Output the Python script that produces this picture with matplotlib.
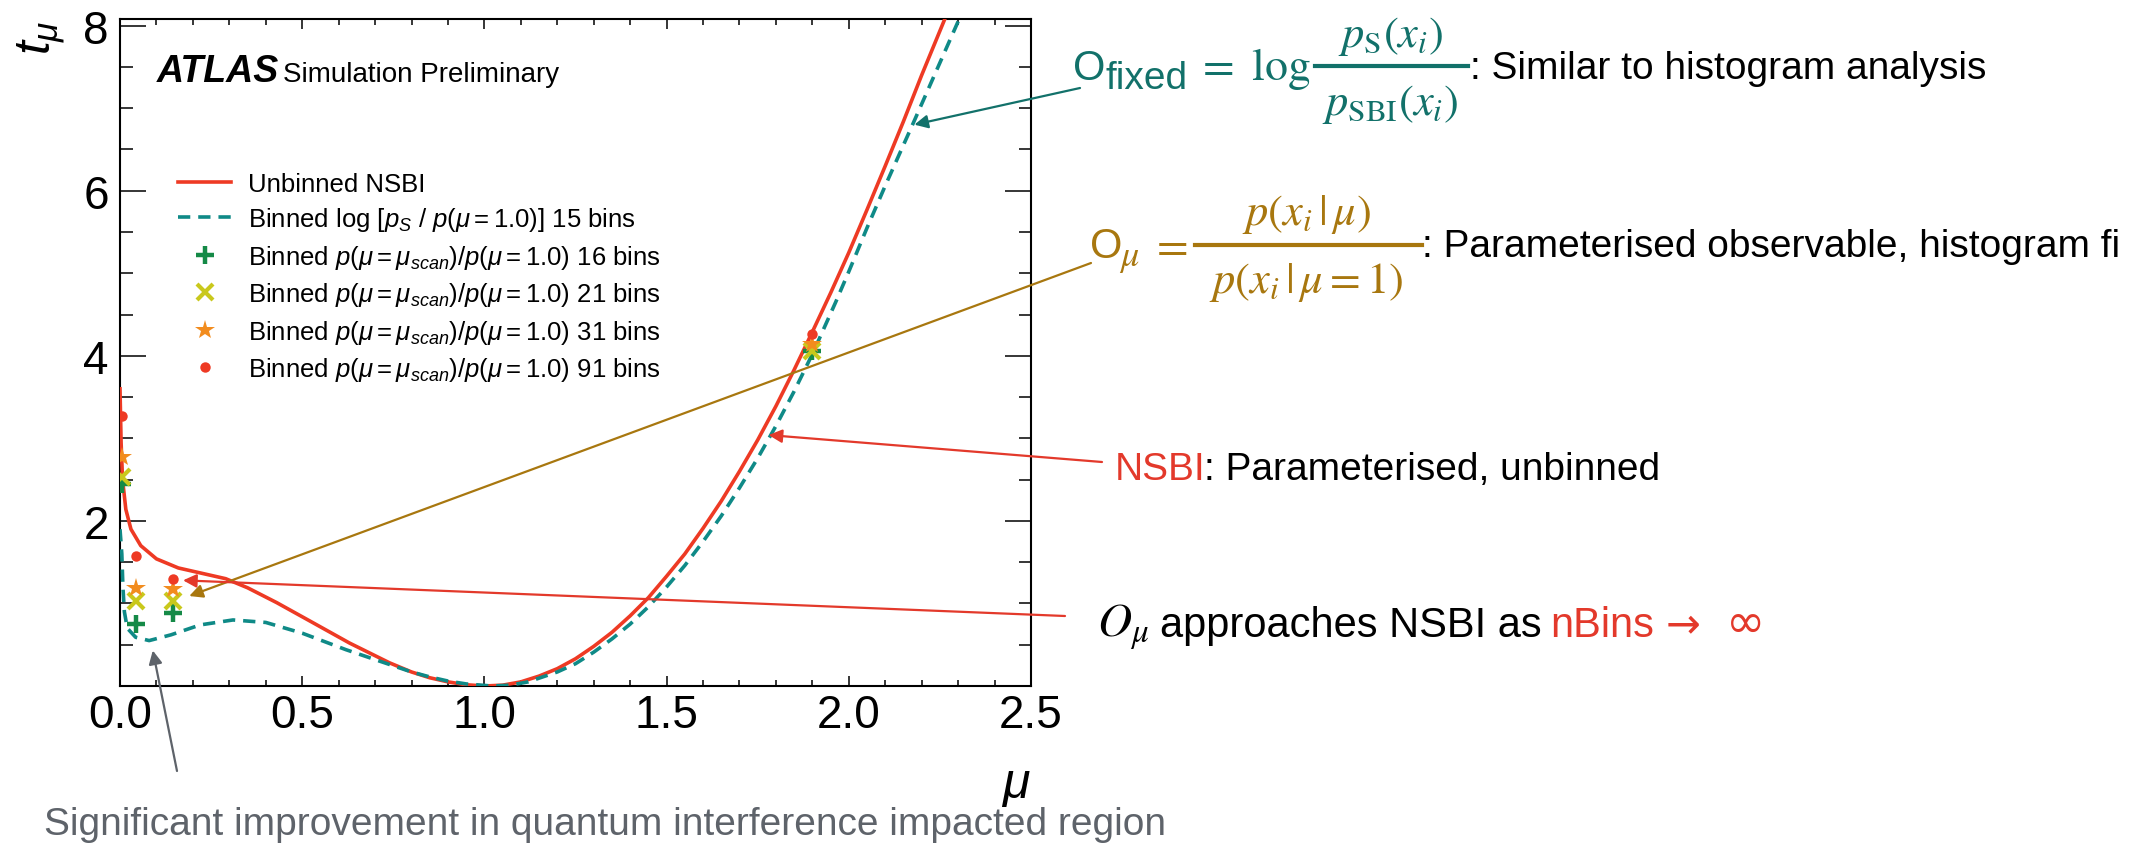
import numpy as np
import matplotlib
matplotlib.use('Agg')
import matplotlib.pyplot as plt
from matplotlib.lines import Line2D
from matplotlib.ticker import MultipleLocator, FormatStrFormatter

W, H = 2138, 845

# unbinned NSBI curve
mu_nsbi = [0.000, 0.003, 0.007, 0.016, 0.030, 0.057, 0.100, 0.160, 0.220, 0.290,
           0.350, 0.430, 0.520, 0.630, 0.740, 0.800, 0.850, 0.900, 0.950, 1.000,
           1.050, 1.100, 1.150, 1.200, 1.250, 1.300, 1.350, 1.400, 1.450, 1.500,
           1.550, 1.600, 1.650, 1.700, 1.750, 1.800, 1.850, 1.900, 1.950, 2.000,
           2.050, 2.100, 2.150, 2.200, 2.270]
t_nsbi = [3.60, 2.95, 2.50, 2.14, 1.90, 1.70, 1.54, 1.43, 1.37, 1.30,
          1.19, 1.01, 0.79, 0.52, 0.28, 0.17, 0.10, 0.05, 0.015, 0.00,
          0.01, 0.05, 0.12, 0.21, 0.33, 0.48, 0.65, 0.85, 1.07, 1.33,
          1.60, 1.91, 2.24, 2.60, 2.98, 3.39, 3.83, 4.29, 4.76, 5.25,
          5.77, 6.30, 6.84, 7.40, 8.15]

# binned log ratio, 15 bins
mu_binned = [0.000, 0.005, 0.008, 0.012, 0.020, 0.043, 0.080, 0.140, 0.220, 0.310,
             0.400, 0.500, 0.620, 0.740, 0.800, 0.850, 0.900, 0.950, 1.020, 1.070,
             1.120, 1.200, 1.250, 1.300, 1.350, 1.400, 1.450, 1.500, 1.550, 1.600,
             1.650, 1.700, 1.750, 1.800, 1.850, 1.900, 1.964, 2.000, 2.050, 2.100,
             2.180, 2.250, 2.310]
t_binned = [1.90, 1.60, 1.20, 0.90, 0.70, 0.59, 0.55, 0.62, 0.74, 0.80,
            0.77, 0.64, 0.44, 0.26, 0.17, 0.11, 0.06, 0.025, 0.00, 0.01,
            0.05, 0.17, 0.27, 0.41, 0.57, 0.75, 0.96, 1.20, 1.46, 1.75,
            2.06, 2.40, 2.76, 3.15, 3.57, 4.02, 4.65, 5.02, 5.55, 6.06,
            6.85, 7.55, 8.15]

# parameterised observable scans
mu_scan = [0.005, 0.045, 0.145, 1.90]
t_16 = [2.45, 0.755, 0.885, 4.06]
t_21 = [2.53, 1.03, 1.03, 4.06]
t_31 = [2.77, 1.19, 1.17, 4.14]
t_91 = [3.27, 1.57, 1.30, 4.26]

# where the annotation arrows point (data) and start (pixels from top-left)
tips = {'fixed': (2.18, 6.80), 'omu': (0.19, 1.09), 'nsbi': (1.78, 3.04),
        'approach': (0.173, 1.28), 'improve': (0.09, 0.43)}
starts = {'fixed': (1080, 89), 'omu': (1091, 264), 'nsbi': (1102, 463),
          'approach': (1065, 617), 'improve': (177, 772)}

RED = '#ee3a24'
TEAL = '#0f8a87'
GREEN = '#158a47'
YELLOW = '#c9c81c'
ORANGE = '#f28c1e'
TEAL_TXT = '#12716a'
GOLD = '#a8770f'
RED_TXT = '#e3392b'
GREY = '#5e636a'

plt.rcParams['font.family'] = ['Liberation Sans', 'DejaVu Sans']
plt.rcParams['mathtext.fontset'] = 'custom'
plt.rcParams['mathtext.rm'] = 'Liberation Sans'
plt.rcParams['mathtext.it'] = 'Liberation Sans:italic'
plt.rcParams['mathtext.bf'] = 'Liberation Sans:bold'

fig = plt.figure(figsize=(W / 100, H / 100), dpi=100)
ax = fig.add_axes([120 / W, 158 / H, 911 / W, 667 / H])

ax.plot(mu_nsbi, t_nsbi, color=RED, lw=2.6, label='Unbinned NSBI', zorder=3)
ax.plot(mu_binned, t_binned, color=TEAL, lw=2.6, ls=(0, (3.4, 2.2)),
        label=r'Binned log $[p_S\ /\ p(\mu = 1.0)]$ 15 bins', zorder=3)
lab = r'Binned $p(\mu = \mu_{scan})/p(\mu = 1.0)$ %d bins'
ax.plot(mu_scan, t_16, ls='none', marker='+', ms=13, mew=3.2, color=GREEN, label=lab % 16, zorder=4)
ax.plot(mu_scan, t_21, ls='none', marker='x', ms=11, mew=3.0, color=YELLOW, label=lab % 21, zorder=4)
ax.plot(mu_scan, t_31, ls='none', marker='*', ms=15, mew=0, color=ORANGE, label=lab % 31, zorder=4)
ax.plot(mu_scan, t_91, ls='none', marker='o', ms=7.5, mew=0, color=RED, label=lab % 91, zorder=4)

ax.set_xlim(0, 2.5)
ax.set_ylim(0, 8.08)
ax.set_xticks(np.arange(0, 2.51, 0.5))
ax.xaxis.set_major_formatter(FormatStrFormatter('%.1f'))
ax.set_yticks([2, 4, 6, 8])
ax.xaxis.set_minor_locator(MultipleLocator(0.1))
ax.yaxis.set_minor_locator(MultipleLocator(0.5))
ax.tick_params(which='both', direction='in', top=True, right=True, width=1.1)
ax.tick_params(axis='x', which='major', length=7.2, pad=5, labelsize=33)
ax.tick_params(axis='x', which='minor', length=4.3)
ax.tick_params(axis='y', which='major', length=18.5, pad=8, labelsize=33)
ax.tick_params(axis='y', which='minor', length=9)
for s in ax.spines.values():
    s.set_linewidth(1.5)

ax.set_xlabel(r'$\mu$', loc='right', fontsize=36, labelpad=18)
ax.set_ylabel(r'$t_\mu$', loc='top', fontsize=36, labelpad=12)

ax.text(0.0406, 0.907, 'ATLAS', transform=ax.transAxes, fontsize=27,
        fontweight='bold', fontstyle='italic', va='baseline')
ax.text(0.179, 0.907, 'Simulation Preliminary', transform=ax.transAxes,
        fontsize=20, va='baseline')

ax.legend(loc='upper left', bbox_to_anchor=(0.064, 0.771), frameon=False,
          fontsize=18.5, handlelength=2.05, handletextpad=0.68, labelspacing=0.37,
          borderpad=0, borderaxespad=0, numpoints=1)


def arrow(key, color, lw=1.6, ms=20):
    sx, sy = starts[key]
    ax.annotate('', xy=tips[key], xycoords='data', xytext=(sx, H - sy),
                textcoords='figure pixels', annotation_clip=False,
                arrowprops=dict(arrowstyle='-|>', color=color, lw=lw,
                                shrinkA=0, shrinkB=0, mutation_scale=ms))


def ftext(x, y, s, ha='left', **kw):
    return fig.text(x / W, 1 - y / H, s, va='baseline', ha=ha, **kw)


def bar(x0, x1, y, color):
    fig.add_artist(Line2D([x0 / W, x1 / W], [1 - y / H, 1 - y / H],
                          transform=fig.transFigure, color=color, lw=3))


arrow('fixed', TEAL_TXT)
arrow('omu', GOLD)
arrow('nsbi', RED_TXT)
arrow('approach', RED_TXT)
arrow('improve', GREY)

# O_fixed = log pS/pSBI
ftext(1073, 80, 'O', fontsize=30, color=TEAL_TXT)
ftext(1105, 89, 'fixed', fontsize=28, color=TEAL_TXT)
ftext(1196, 80, r'$=\ \log$', math_fontfamily='stix', fontsize=33, color=TEAL_TXT)
bar(1315, 1468, 67, TEAL_TXT)
ftext(1391, 47, r'$p_{\mathrm{S}}(x_i)$', ha='center', math_fontfamily='stix', fontsize=32, color=TEAL_TXT)
ftext(1390, 115, r'$p_{\mathrm{SBI}}(x_i)$', ha='center', math_fontfamily='stix', fontsize=32, color=TEAL_TXT)
ftext(1470, 79, ': Similar to histogram analysis', fontsize=28, color='black')

# O_mu = p(x|mu)/p(x|mu=1)
ftext(1090, 258, 'O', fontsize=30, color=GOLD)
ftext(1119, 266, r'$\mu$', math_fontfamily='stix', fontsize=26, color=GOLD)
ftext(1150, 258, r'$=$', math_fontfamily='stix', fontsize=33, color=GOLD)
bar(1195, 1422, 246, GOLD)
ftext(1306, 225, r'$p(x_i\,|\,\mu)$', ha='center', math_fontfamily='stix', fontsize=32, color=GOLD)
ftext(1306, 293, r'$p(x_i\,|\,\mu = 1)$', ha='center', math_fontfamily='stix', fontsize=32, color=GOLD)
ftext(1422, 257, ': Parameterised observable, histogram fi', fontsize=28, color='black')

ftext(1115, 480, 'NSBI', fontsize=28, color=RED_TXT)
ftext(1204, 480, ': Parameterised, unbinned', fontsize=28, color='black')

ftext(1097, 637, r'$O_{\mu}$', math_fontfamily='stix', fontsize=34, color='black')
ftext(1160, 637, 'approaches NSBI as', fontsize=30, color='black')
ftext(1550, 637, 'nBins', fontsize=30, color=RED_TXT)
ftext(1666, 637, '\u2192', fontsize=30, color=RED_TXT, family='DejaVu Sans')
ftext(1726, 637, '\u221e', fontsize=34, color=RED_TXT, family='DejaVu Sans')

fig.text(44 / W, 1 - 825 / H, 'Significant improvement in quantum interference impacted region',
         fontsize=28, color=GREY, va='center', ha='left')

fig.savefig('out.png', dpi=100)
